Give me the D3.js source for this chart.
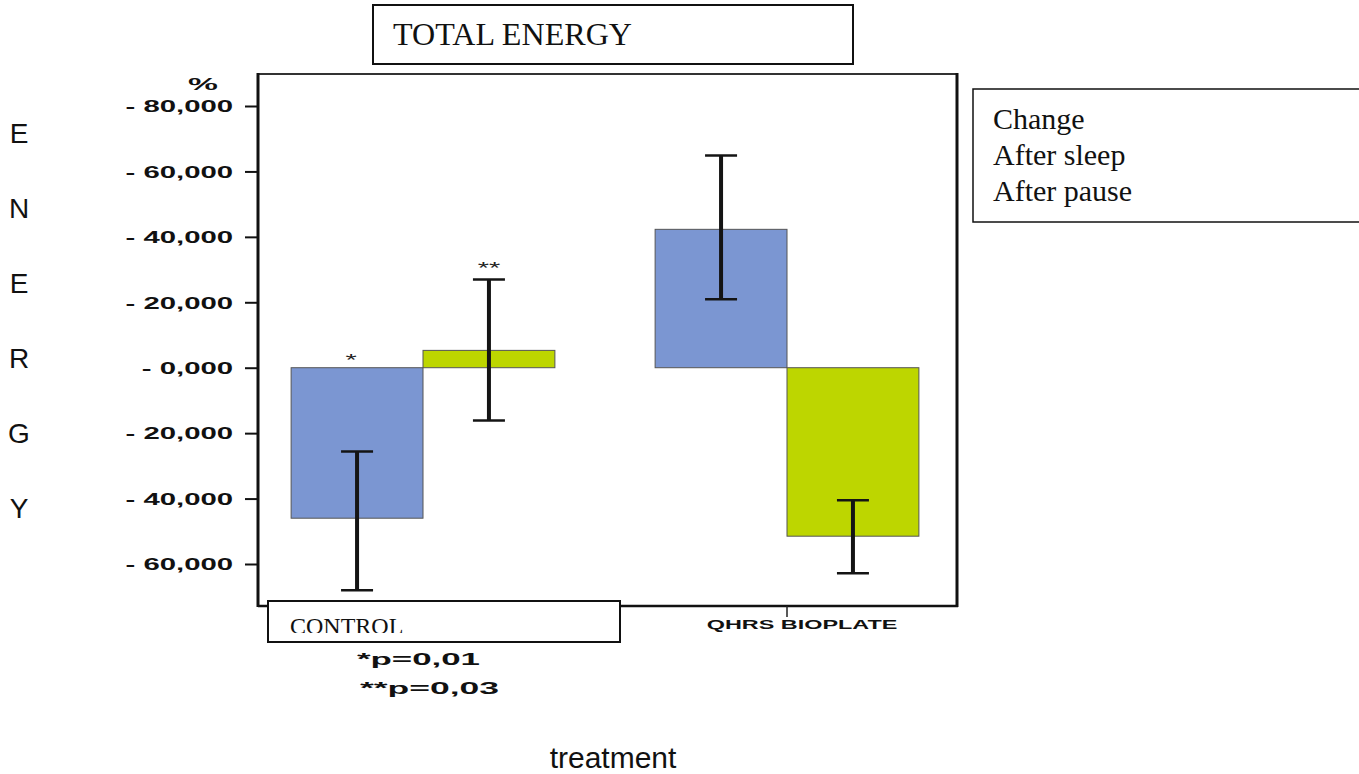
<!DOCTYPE html>
<html>
<head>
<meta charset="utf-8">
<script src="https://cdn.jsdelivr.net/npm/d3@7"></script>
<style>
  html, body { margin: 0; padding: 0; background: #fff; }
  svg { display: block; }
</style>
</head>
<body>
<script>
// ---------------- data ----------------
const categories = ["CONTROL", "QHRS BIOPLATE"];
const barSeries = ["After sleep", "After pause"];
const legendItems = ["Change", "After sleep", "After pause"];
// mean % change
const seriesA = [-46.0, 42.3];     // blue bars
const seriesB = [5.3, -51.5];      // green bars
// error bar extents
const seriesALow = [-68.0, 20.9];
const seriesAHigh = [-25.6, 64.9];
const seriesBLow = [-16.1, -62.8];
const seriesBHigh = [27.0, -40.5];
// significance marks
const marksA = ["*", ""];
const marksB = ["**", ""];
const yTicks = [80, 60, 40, 20, 0, -20, -40, -60];
const pNotes = ["*p=0,01", "**p=0,03"];
const sideLetters = ["E", "N", "E", "R", "G", "Y"];
const titleText = "TOTAL ENERGY";
const xTitle = "treatment";
const yUnit = "%";

// ---------------- setup ----------------
const W = 1359, H = 774;
const svg = d3.select("body").append("svg").attr("width", W).attr("height", H);

const frame = { left: 258, right: 957, top: 74, bottom: 606 };
const y = d3.scaleLinear().domain([-60, 80]).range([564, 106]);
const x0 = d3.scaleBand().domain(categories).range([241, 969]).padding(0);
const x1 = d3.scaleBand().domain(barSeries).range([0, x0.bandwidth()]).paddingInner(0).paddingOuter(0.38);
const colors = { "After sleep": "#7B96D2", "After pause": "#BDD600" };

const loc = d3.formatLocale({ decimal: ",", thousands: ".", grouping: [3], currency: ["", ""] });
const fmt = loc.format(".3f");

function stretch(sel, factor) {
  sel.each(function () {
    const w = this.getComputedTextLength();
    d3.select(this).attr("textLength", w * factor).attr("lengthAdjust", "spacingAndGlyphs");
  });
}

// ---------------- bars ----------------
const rows = categories.map((c, i) => ([
  { cat: c, s: barSeries[0], v: seriesA[i], lo: seriesALow[i], hi: seriesAHigh[i], mark: marksA[i] },
  { cat: c, s: barSeries[1], v: seriesB[i], lo: seriesBLow[i], hi: seriesBHigh[i], mark: marksB[i] }
])).flat();

const gBars = svg.append("g");
gBars.selectAll("rect.bar").data(rows).join("rect")
  .attr("class", "bar")
  .attr("x", d => x0(d.cat) + x1(d.s))
  .attr("width", x1.bandwidth())
  .attr("y", d => y(Math.max(0, d.v)))
  .attr("height", d => Math.abs(y(d.v) - y(0)))
  .attr("fill", d => colors[d.s])
  .attr("stroke", "#555")
  .attr("stroke-width", 1);

// error bars
const cx = d => x0(d.cat) + x1(d.s) + x1.bandwidth() / 2;
const gErr = svg.append("g").attr("stroke", "#141414");
gErr.selectAll("line.stem").data(rows).join("line")
  .attr("x1", cx).attr("x2", cx)
  .attr("y1", d => y(d.lo)).attr("y2", d => y(d.hi))
  .attr("stroke-width", 4);
gErr.selectAll("line.capHi").data(rows).join("line")
  .attr("x1", d => cx(d) - 16).attr("x2", d => cx(d) + 16)
  .attr("y1", d => y(d.hi)).attr("y2", d => y(d.hi))
  .attr("stroke-width", 2.5);
gErr.selectAll("line.capLo").data(rows).join("line")
  .attr("x1", d => cx(d) - 16).attr("x2", d => cx(d) + 16)
  .attr("y1", d => y(d.lo)).attr("y2", d => y(d.lo))
  .attr("stroke-width", 2.5);

// significance marks
svg.append("g").selectAll("text").data(rows.filter(d => d.mark)).join("text")
  .attr("x", d => cx(d) - (d.v < 0 ? 6 : 0))
  .attr("y", d => d.v < 0 ? y(0) - 2 : y(d.hi) - 5)
  .attr("text-anchor", "middle")
  .attr("font-family", "Liberation Sans, Arial, sans-serif")
  .attr("font-size", 16)
  .attr("fill", "#222")
  .text(d => d.mark)
  .call(stretch, 1.8);

// ---------------- frame ----------------
const gf = svg.append("g");
gf.append("line").attr("x1", frame.left).attr("x2", frame.right).attr("y1", frame.top).attr("y2", frame.top)
  .attr("stroke", "#333").attr("stroke-width", 2);
gf.append("line").attr("x1", frame.left).attr("x2", frame.left).attr("y1", frame.top - 1).attr("y2", frame.bottom + 1)
  .attr("stroke", "#111").attr("stroke-width", 3);
gf.append("line").attr("x1", frame.right).attr("x2", frame.right).attr("y1", frame.top - 1).attr("y2", frame.bottom + 1)
  .attr("stroke", "#111").attr("stroke-width", 3);
gf.append("line").attr("x1", frame.left).attr("x2", frame.right + 1).attr("y1", frame.bottom).attr("y2", frame.bottom)
  .attr("stroke", "#111").attr("stroke-width", 2.5);

// ---------------- y axis ----------------
const yAxis = d3.axisLeft(y).tickValues(yTicks).tickSize(12).tickPadding(12)
  .tickFormat(d => "- " + fmt(Math.abs(d)));
const gy = svg.append("g").attr("transform", `translate(${frame.left - 1},0)`).call(yAxis);
gy.select(".domain").remove();
gy.selectAll(".tick line").attr("stroke", "#111").attr("stroke-width", 2);
gy.selectAll(".tick text")
  .attr("font-family", "Liberation Sans, Arial, sans-serif")
  .attr("font-weight", "bold")
  .attr("font-size", 16)
  .attr("fill", "#111")
  .attr("dy", "0.36em")
  .call(stretch, 1.83);

svg.append("text").attr("x", 203).attr("y", 90).attr("text-anchor", "middle")
  .attr("font-family", "Liberation Sans, Arial, sans-serif").attr("font-weight", "bold")
  .attr("font-size", 16).attr("fill", "#111").text(yUnit).call(stretch, 2.1);

// ---------------- x axis ----------------
const xAxis = d3.axisBottom(x0).tickSize(11).tickPadding(6)
  .tickFormat(d => d === categories[1] ? d : "");
const gx = svg.append("g").attr("transform", `translate(0,${frame.bottom})`).call(xAxis);
gx.select(".domain").remove();
gx.selectAll(".tick line").attr("stroke", "#222").attr("stroke-width", 1.5);
gx.selectAll(".tick text")
  .attr("font-family", "Liberation Sans, Arial, sans-serif")
  .attr("font-weight", "bold")
  .attr("font-size", 12)
  .attr("fill", "#111")
  .attr("dx", 15)
  .attr("dy", "0.5em")
  .call(stretch, 1.95);

// CONTROL box covering the first category label area
const ctl = svg.append("g");
ctl.append("rect").attr("x", 268).attr("y", 601).attr("width", 352).attr("height", 41)
  .attr("fill", "#fff").attr("stroke", "#111").attr("stroke-width", 2);
svg.append("clipPath").attr("id", "ctlclip").append("rect")
  .attr("x", 268).attr("y", 602).attr("width", 352).attr("height", 31);
ctl.append("text").attr("x", 290).attr("y", 634).attr("clip-path", "url(#ctlclip)")
  .attr("font-family", "Liberation Serif, Times New Roman, serif")
  .attr("font-size", 24).attr("fill", "#111").text(categories[0]);

// p-value notes
const pTargets = [123, 139];
const pX = [357, 360];
svg.append("g").selectAll("text").data(pNotes).join("text")
  .attr("x", (d, i) => pX[i]).attr("y", (d, i) => 665 + i * 28.5)
  .attr("font-family", "Liberation Sans, Arial, sans-serif").attr("font-weight", "bold")
  .attr("font-size", 16).attr("fill", "#111")
  .attr("textLength", (d, i) => pTargets[i]).attr("lengthAdjust", "spacingAndGlyphs")
  .text(d => d);

// ---------------- title box ----------------
svg.append("rect").attr("x", 373).attr("y", 5).attr("width", 480).attr("height", 59)
  .attr("fill", "#fff").attr("stroke", "#111").attr("stroke-width", 2);
svg.append("text").attr("x", 393).attr("y", 45)
  .attr("font-family", "Liberation Serif, Times New Roman, serif")
  .attr("font-size", 31).attr("fill", "#111")
  .attr("textLength", 239).attr("lengthAdjust", "spacingAndGlyphs")
  .text(titleText);

// ---------------- legend box ----------------
svg.append("rect").attr("x", 973).attr("y", 89).attr("width", 400).attr("height", 133)
  .attr("fill", "#fff").attr("stroke", "#111").attr("stroke-width", 1.5);
svg.append("g").selectAll("text").data(legendItems).join("text")
  .attr("x", 993).attr("y", (d, i) => 129 + i * 36)
  .attr("font-family", "Liberation Serif, Times New Roman, serif")
  .attr("font-size", 30).attr("fill", "#111")
  .text(d => d);

// ---------------- side letters ----------------
svg.append("g").selectAll("text").data(sideLetters).join("text")
  .attr("x", 19).attr("y", (d, i) => 143 + i * 75)
  .attr("text-anchor", "middle")
  .attr("font-family", "Liberation Sans, Arial, sans-serif")
  .attr("font-size", 28).attr("fill", "#111")
  .text(d => d);

// ---------------- x title ----------------
svg.append("text").attr("x", 613).attr("y", 768).attr("text-anchor", "middle")
  .attr("font-family", "Liberation Sans, Arial, sans-serif")
  .attr("font-size", 30).attr("fill", "#111")
  .text(xTitle);
</script>
</body>
</html>
